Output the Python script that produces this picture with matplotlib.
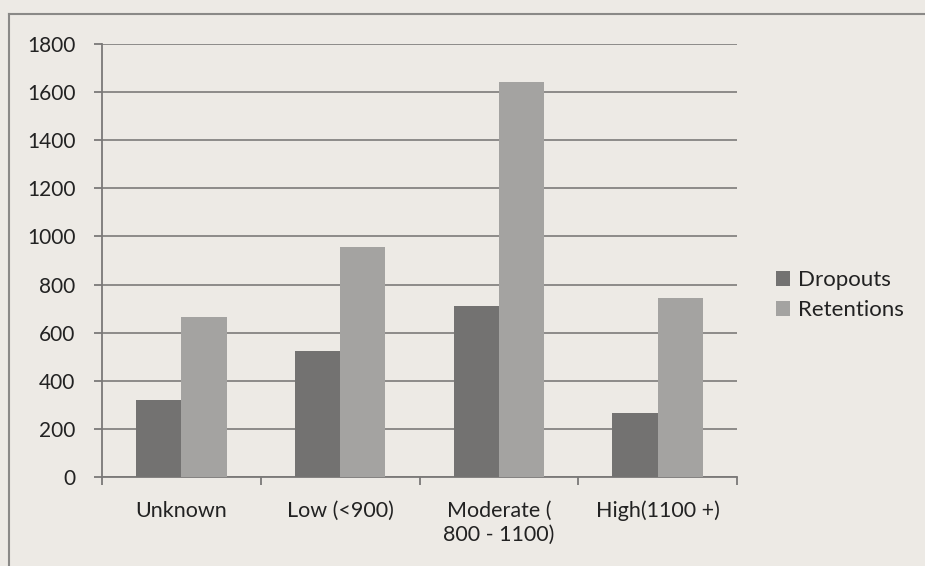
import matplotlib.pyplot as plt
import numpy as np

plt.rcParams['font.family'] = ['Lato', 'DejaVu Sans']

categories = ['Unknown', 'Low (<900)', 'Moderate (\n800 - 1100)', 'High(1100 +)']
dropouts = [320, 525, 710, 265]
retentions = [665, 955, 1640, 745]
yticks = [0, 200, 400, 600, 800, 1000, 1200, 1400, 1600, 1800]

bg = '#edeae5'
fig = plt.figure(figsize=(9.25, 5.66), dpi=100, facecolor=bg)
ax = fig.add_axes([102 / 925, 1 - 477 / 566, (737 - 102) / 925, (477 - 44) / 566])
ax.set_facecolor(bg)

x = np.arange(len(categories))
w = 1 / 3.5
ax.bar(x - w / 2, dropouts, w, color='#737271', label='Dropouts', zorder=3)
ax.bar(x + w / 2, retentions, w, color='#a4a3a1', label='Retentions', zorder=3)

ax.set_xlim(-0.5, len(categories) - 0.5)
ax.set_ylim(0, 1800)
ax.set_yticks(yticks)
ax.set_yticklabels([str(v) for v in yticks], fontsize=15, color='#222222')
ax.yaxis.grid(True, color='#858482', linewidth=1.3, zorder=0)
ax.set_xticks(x)
ax.set_xticklabels(categories, fontsize=15.5, color='#222222', linespacing=1.25)
ax.set_xticks(np.arange(len(categories) + 1) - 0.5, minor=True)
ax.tick_params(axis='x', which='major', length=0, pad=17)
ax.tick_params(axis='x', which='minor', length=6, color='#7a7978', width=1.3)
ax.tick_params(axis='y', length=6, color='#7a7978', width=1.3, pad=13)
for s in ['top', 'right']:
    ax.spines[s].set_visible(False)
for s in ['left', 'bottom']:
    ax.spines[s].set_color('#7a7978')
    ax.spines[s].set_linewidth(1.3)

leg = ax.legend(loc='center left', bbox_to_anchor=(1.03, 0.42), frameon=False,
                fontsize=16, handlelength=0.65, handleheight=0.65, handletextpad=0.35,
                labelspacing=0.45)
for t in leg.get_texts():
    t.set_color('#222222')

# chart border
fig.add_artist(plt.Line2D([9 / 925, 9 / 925], [0, 1 - 14 / 566], color='#8a8987', linewidth=1.5))
fig.add_artist(plt.Line2D([9 / 925, 1], [1 - 14 / 566, 1 - 14 / 566], color='#8a8987', linewidth=1.5))

fig.savefig('out.png', dpi=100, facecolor=bg)
